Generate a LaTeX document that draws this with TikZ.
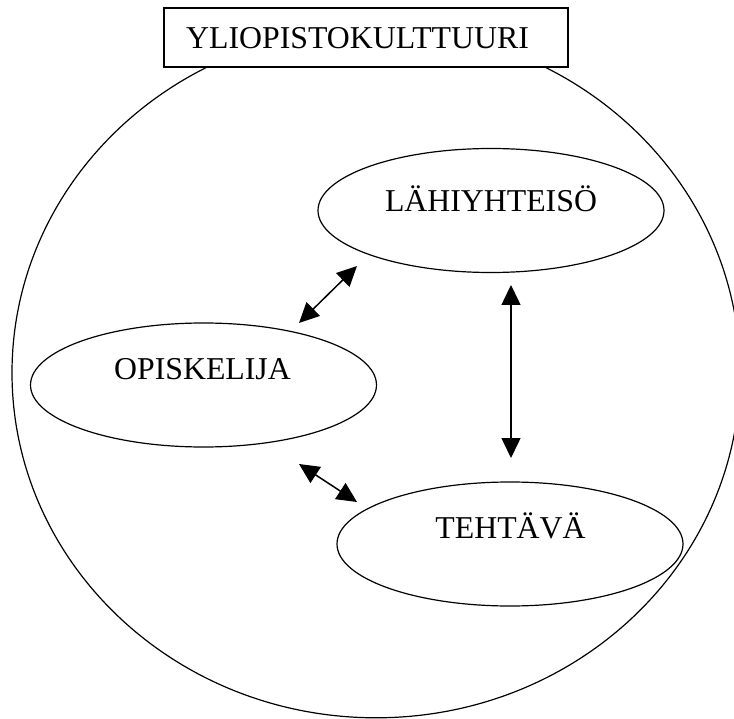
\documentclass[tikz,border=0pt]{standalone}
\usepackage{fontspec}
\setmainfont{Liberation Serif}
\usetikzlibrary{arrows.meta,shapes.geometric}
\begin{document}
\begin{tikzpicture}[x=1pt,y=-1pt,
  bubble/.style={draw, ellipse, line width=1.2pt, inner sep=0pt,
    minimum width=346pt, minimum height=124pt},
  lbl/.style={anchor=base, inner sep=0pt, font=\fontsize{31.8}{38}\selectfont},
  dbl/.style={line width=1.5pt, {Triangle[length=20pt,width=19pt]}-{Triangle[length=20pt,width=19pt]}},
  titlebox/.style={draw, fill=white, line width=1.3pt, inner sep=0pt,
    minimum width=404pt, minimum height=59pt}]
\useasboundingbox (0,0) rectangle (734,719);
\fill[white] (0,0) rectangle (734,719);
\begin{scope}
  \clip (0,0) rectangle (734,719);
  \draw[line width=1.2pt] (376,372.8) ellipse [x radius=364, y radius=345];
\end{scope}
% title
\node[titlebox] (titleb) at (366,37.5) {};
\node[lbl] (titlet) at (357.5,49) {YLIOPISTOKULTTUURI};
% ellipses
\node[bubble] (lah) at (491,210.5) {};
\node[lbl] (laht) at (491,212) {LÄHIYHTEISÖ};
\node[bubble] (opi) at (203.5,385) {};
\node[lbl] (opit) at (202.5,380) {OPISKELIJA};
\node[bubble] (teh) at (510,544) {};
\node[lbl] (teht) at (510.5,538) {TEHTÄVÄ};
% arrow ends
\coordinate (a1s) at (299,323);
\coordinate (a1e) at (357,266);
\coordinate (a2s) at (299,464);
\coordinate (a2e) at (357,502);
\coordinate (a3s) at (511,285);
\coordinate (a3e) at (511,458);
\draw[dbl] (a1s) -- (a1e);
\draw[dbl] (a2s) -- (a2e);
\draw[dbl] (a3s) -- (a3e);
\end{tikzpicture}
\end{document}
